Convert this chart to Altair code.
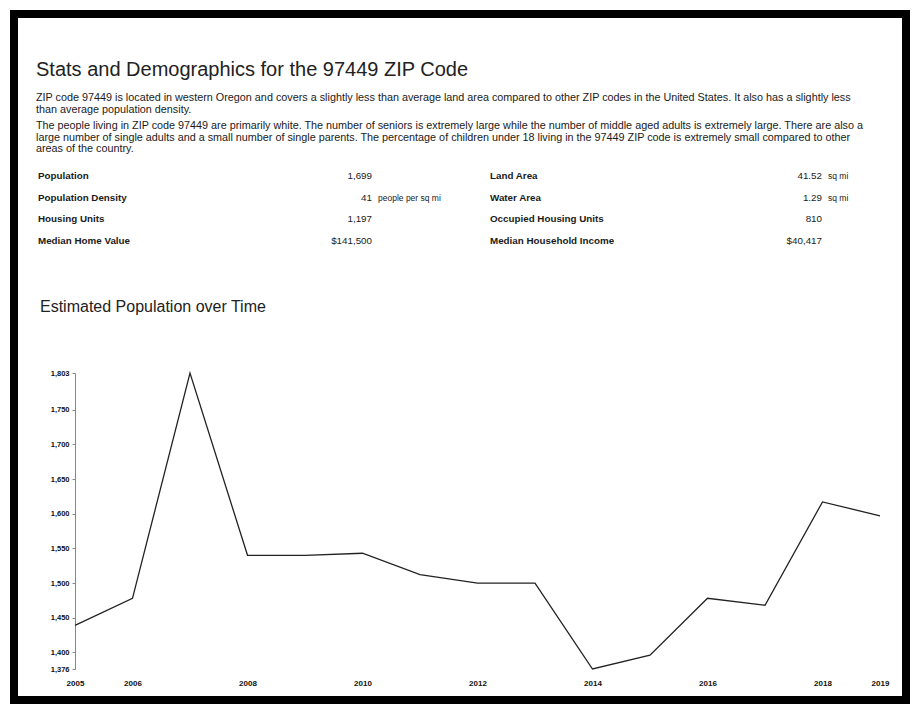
import altair as alt
import pandas as pd

# ---------------- data ----------------
years = [2005, 2006, 2007, 2008, 2009, 2010, 2011, 2012, 2013, 2014, 2015, 2016, 2017, 2018, 2019]
population = [1439, 1478, 1803, 1540, 1540, 1543, 1512, 1500, 1500, 1376, 1396, 1478, 1468, 1617, 1597]
y_ticks = [1376, 1400, 1450, 1500, 1550, 1600, 1650, 1700, 1750, 1803]
x_ticks = [2005, 2006, 2008, 2010, 2012, 2014, 2016, 2018, 2019]

page_title = "Stats and Demographics for the 97449 ZIP Code"
para1 = [
    "ZIP code 97449 is located in western Oregon and covers a slightly less than average land area compared to other ZIP codes in the United States. It also has a slightly less",
    "than average population density.",
]
para2 = [
    "The people living in ZIP code 97449 are primarily white. The number of seniors is extremely large while the number of middle aged adults is extremely large. There are also a",
    "large number of single adults and a small number of single parents. The percentage of children under 18 living in the 97449 ZIP code is extremely small compared to other",
    "areas of the country.",
]
left_labels = ["Population", "Population Density", "Housing Units", "Median Home Value"]
left_values = ["1,699", "41", "1,197", "$141,500"]
left_units = ["", "people per sq mi", "", ""]
right_labels = ["Land Area", "Water Area", "Occupied Housing Units", "Median Household Income"]
right_values = ["41.52", "1.29", "810", "$40,417"]
right_units = ["sq mi", "sq mi", "", ""]
chart_title = "Estimated Population over Time"

FONT = "Liberation Sans"
one = pd.DataFrame({"k": [0]})
pop_df = pd.DataFrame({"year": years, "population": population})


def text_layer(lines, x, y, size, weight="normal", align="left", line_height=None, color="#1a1a1a"):
    kw = dict(text=lines, align=align, baseline="top", fontSize=size,
              fontWeight=weight, font=FONT, color=color)
    if line_height:
        kw["lineHeight"] = line_height
    return alt.Chart(one).mark_text(**kw).encode(x=alt.value(x), y=alt.value(y))


title_l = text_layer(page_title, 22, 46, 20, color="#222")
p1 = text_layer(para1, 22, 78, 10.8, line_height=11.5)
p2 = text_layer(para2, 22, 106, 10.8, line_height=11.5)
ROW_H = 21.7
ST_Y = 157
ll = text_layer(left_labels, 24, ST_Y, 9.8, weight="bold", line_height=ROW_H)
lv = text_layer(left_values, 358, ST_Y, 9.8, align="right", line_height=ROW_H)
lu = text_layer(left_units, 364, ST_Y + 1, 8.5, line_height=ROW_H)
rl = text_layer(right_labels, 476, ST_Y, 9.8, weight="bold", line_height=ROW_H)
rv = text_layer(right_values, 808, ST_Y, 9.8, align="right", line_height=ROW_H)
ru = text_layer(right_units, 814, ST_Y + 1, 8.5, line_height=ROW_H)
ct = text_layer(chart_title, 26, 285, 16, color="#222")

line = alt.Chart(pop_df).mark_line(color="#222", strokeWidth=1.3).encode(
    x=alt.X(
        "year:Q",
        scale=alt.Scale(domain=[2005, 2019], range=[61, 866], nice=False, zero=False),
        axis=alt.Axis(values=x_ticks, format="d", title=None, orient="bottom", offset=-23,
                      domain=False, ticks=False, grid=False, labelFontSize=8,
                      labelFontWeight="bold", labelPadding=2, labelFlush=False,
                      labelOverlap=False, labelFont=FONT, labelColor="#111"),
    ),
    y=alt.Y(
        "population:Q",
        scale=alt.Scale(domain=[1376, 1803], range=[655, 359], nice=False, zero=False),
        axis=alt.Axis(values=y_ticks, format=",d", title=None, orient="left", offset=-61,
                      grid=False, domain=True, domainColor="#888", ticks=True, tickSize=3,
                      tickColor="#888", labelFontSize=7.5, labelFontWeight="bold",
                      labelOverlap=False, labelFlush=False, labelPadding=3,
                      labelFont=FONT, labelColor="#111"),
    ),
)

chart = alt.layer(title_l, p1, p2, ll, lv, lu, rl, rv, ru, ct, line).properties(
    width=892, height=686, padding=6, background="white",
    autosize=alt.AutoSizeParams(type="none"),
).configure_view(stroke="black", strokeWidth=8, fill="white")

chart.save("out.html", embed_options={"renderer": "svg", "actions": False})
